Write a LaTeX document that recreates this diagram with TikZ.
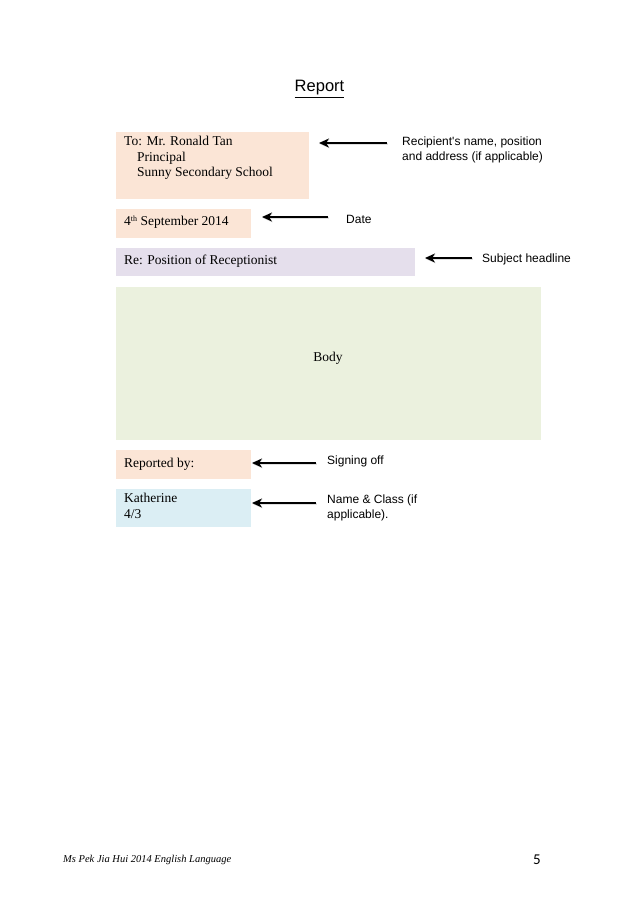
\documentclass[tikz,border=0pt]{standalone}
\usepackage{fontspec}
\setmainfont{Liberation Serif}
\newfontfamily\arial{Liberation Sans}
\newfontfamily\carlito{Carlito}
\usetikzlibrary{arrows.meta}
\definecolor{peach}{HTML}{FBE5D6}
\definecolor{lav}{HTML}{E5DFEC}
\definecolor{bodyg}{HTML}{EBF1DE}
\definecolor{lblue}{HTML}{DBEEF4}
\begin{document}
\begin{tikzpicture}[x=1pt,y=-1pt,
  boxtxt/.style={font=\fontsize{13.5}{15.5}\selectfont},
  lab/.style={font=\arial\fontsize{12}{15.5}\selectfont, anchor=west, align=left, inner sep=0pt},
  arr/.style={-{Stealth[length=10pt,width=9pt,inset=3pt]}, line width=2pt, black},
  arrsh/.style={-{Stealth[length=10pt,width=9pt,inset=3pt]}, line width=2.4pt, black!12}]
\useasboundingbox (0,0) rectangle (638,903);
\fill[white] (0,0) rectangle (638,903);
% title
\node[font=\arial\fontsize{16.5}{18}\selectfont, inner sep=0pt] (title) at (319.5,89) {\underline{Report}};
% boxes
\fill[peach] (116,132) rectangle (309,199);
\node[boxtxt, anchor=north west, align=left, inner sep=0pt] (to) at (124,136) {To: Mr. Ronald Tan\\\hspace{13pt}Principal\\\hspace{13pt}Sunny Secondary School};
\fill[peach] (116,209) rectangle (251,238);
\node[boxtxt, anchor=west, inner sep=0pt] (date) at (124,222) {4{\fontsize{8}{9}\selectfont\raisebox{3.5pt}{th}} September 2014};
\fill[lav] (116,248) rectangle (415,276);
\node[boxtxt, anchor=west, inner sep=0pt] (re) at (124,261) {Re: Position of Receptionist};
\fill[bodyg] (116,287) rectangle (541,440);
\node[boxtxt, inner sep=0pt] (body) at (328,358) {Body};
\fill[peach] (116,450) rectangle (251,479);
\node[boxtxt, anchor=west, inner sep=0pt] (rep) at (124,464) {Reported by:};
\fill[lblue] (116,489) rectangle (251,527);
\node[boxtxt, anchor=north west, align=left, inner sep=0pt] (kat) at (124,493) {Katherine\\4/3};
% labels
\node[lab] (l1) at (402,150) {Recipient's name, position\\and address (if applicable)};
\node[lab] (l2) at (346,219) {Date};
\node[lab] (l3) at (482,259) {Subject headline};
\node[lab] (l4) at (327,461) {Signing off};
\node[lab] (l5) at (327,508) {Name \& Class (if\\applicable).};
% arrows
\coordinate (a1s) at (387,143); \coordinate (a1e) at (319,143);
\coordinate (a2s) at (328,217); \coordinate (a2e) at (262,217);
\coordinate (a3s) at (472,258); \coordinate (a3e) at (425,258);
\coordinate (a4s) at (316,463); \coordinate (a4e) at (252,463);
\coordinate (a5s) at (316,503); \coordinate (a5e) at (252,503);
\foreach \i in {1,...,5}{
  \draw[arrsh] ([shift={(0.5,0.9)}]a\i s) -- ([shift={(0.5,0.9)}]a\i e);
}
\foreach \i in {1,...,5}{
  \draw[arr] (a\i s) -- (a\i e);
}
% footer
\node[font=\itshape\fontsize{10.5}{12}\selectfont, anchor=west, inner sep=0pt] (foot) at (63,860) {Ms Pek Jia Hui 2014 English Language};
\node[font=\carlito\fontsize{15}{16}\selectfont, inner sep=0pt] (pg) at (537,860) {5};
\end{tikzpicture}
\end{document}
